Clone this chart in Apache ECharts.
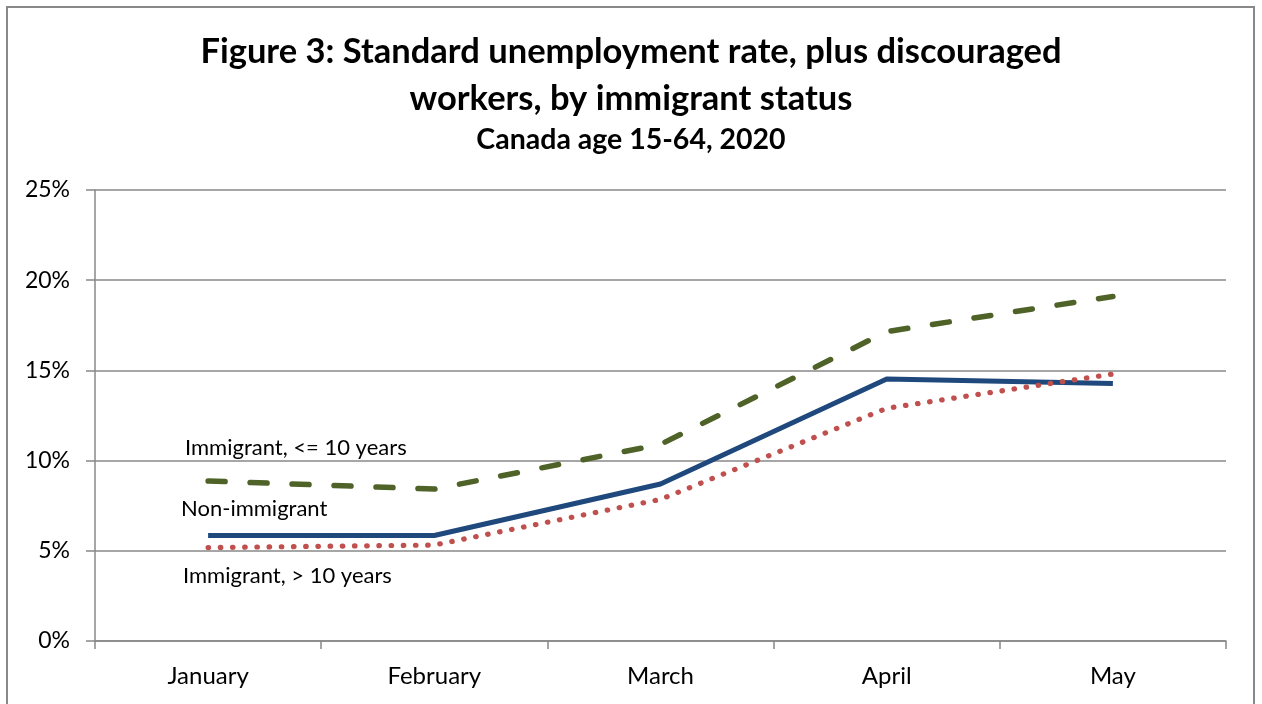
<!DOCTYPE html>
<html><head><meta charset="utf-8">
<script src="https://cdn.jsdelivr.net/npm/echarts@6/dist/echarts.min.js"></script>
<style>html,body{margin:0;padding:0;background:#fff}#c{width:1262px;height:704px}</style>
</head><body><div id="c"></div>
<script>
const months = ['January', 'February', 'March', 'April', 'May'];
const immigrantRecent = [8.87, 8.42, 10.9, 17.15, 19.1];
const nonImmigrant = [5.85, 5.85, 8.7, 14.52, 14.27];
const immigrantEstablished = [5.18, 5.32, 7.85, 12.9, 14.8];
const yTicks = [0, 5, 10, 15, 20, 25];

const FONT = 'Lato, "Noto Sans", sans-serif';
const chart = echarts.init(document.getElementById('c'));
chart.setOption({
  backgroundColor: '#fff',
  animation: false,
  title: [
    { text: 'Figure 3: Standard unemployment rate, plus discouraged\nworkers, by immigrant status', left: 'center', top: 23,
      textStyle: { fontFamily: FONT, fontWeight: 'bold', fontSize: 34.5, lineHeight: 47, color: '#000' } },
    { text: 'Canada age 15-64, 2020', left: 'center', top: 120,
      textStyle: { fontFamily: FONT, fontWeight: 'bold', fontSize: 28.5, lineHeight: 30, color: '#000' } }
  ],
  grid: { left: 95, right: 36, top: 190, bottom: 63 },
  xAxis: {
    type: 'category', data: months, boundaryGap: true,
    axisLine: { lineStyle: { color: '#888', width: 1.5 } },
    axisTick: { show: true, length: 8, lineStyle: { color: '#888', width: 1.5 } },
    axisLabel: { fontFamily: FONT, fontSize: 24, color: '#000', margin: 23 }
  },
  yAxis: {
    type: 'value', min: 0, max: 25, interval: 5,
    axisLine: { show: true, lineStyle: { color: '#888', width: 1.5 } },
    axisTick: { show: true, length: 9, lineStyle: { color: '#888', width: 1.5 } },
    splitLine: { lineStyle: { color: '#888', width: 1.5 } },
    axisLabel: { fontFamily: FONT, fontSize: 23, color: '#000', margin: 25,
      formatter: v => yTicks.includes(v) ? v + '%' : '' }
  },
  series: [
    { name: 'Immigrant, <= 10 years', type: 'line', data: immigrantRecent, symbol: 'none',
      lineStyle: { color: '#4F6228', width: 5.5, type: [17, 25], cap: 'round' } },
    { name: 'Non-immigrant', type: 'line', data: nonImmigrant, symbol: 'none',
      lineStyle: { color: '#1F497D', width: 5 } },
    { name: 'Immigrant, > 10 years', type: 'line', data: immigrantEstablished, symbol: 'none',
      lineStyle: { color: '#C0504D', width: 5.2, type: [0.5, 11.7], cap: 'round' } }
  ],
  graphic: [
    { type: 'rect', shape: { x: 7, y: 7, width: 1247, height: 720 }, style: { fill: 'none', stroke: '#888', lineWidth: 2 }, silent: true },
    { type: 'text', left: 185, top: 437, style: { text: 'Immigrant, <= 10 years', font: '22px ' + FONT, fill: '#000' } },
    { type: 'text', left: 181, top: 498, style: { text: 'Non-immigrant', font: '22px ' + FONT, fill: '#000' } },
    { type: 'text', left: 183, top: 565, style: { text: 'Immigrant, > 10 years', font: '22px ' + FONT, fill: '#000' } }
  ]
});
</script></body></html>
